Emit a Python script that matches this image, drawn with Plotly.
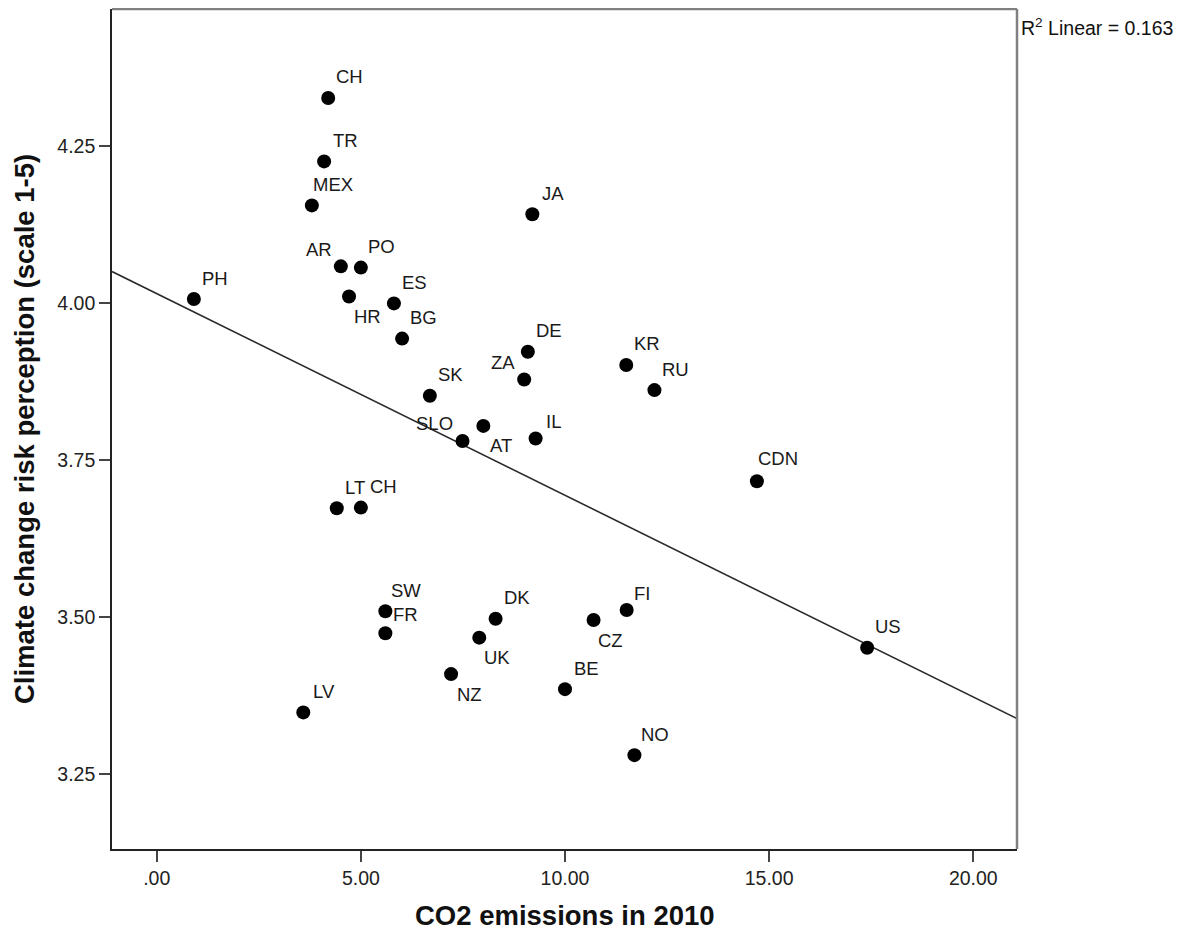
import plotly.graph_objects as go

# ---- data ----
countries = ["CH", "TR", "MEX", "AR", "PO", "PH", "HR", "ES", "BG", "JA",
             "DE", "ZA", "KR", "RU", "SK", "SLO", "AT", "IL", "LT", "CH",
             "CDN", "SW", "FR", "DK", "UK", "NZ", "LV", "CZ", "FI", "BE",
             "NO", "US"]
co2_2010 = [4.20, 4.10, 3.80, 4.51, 5.00, 0.91, 4.71, 5.81, 6.01, 9.20,
            9.09, 9.00, 11.50, 12.19, 6.69, 7.49, 8.00, 9.28, 4.41, 5.00,
            14.70, 5.60, 5.60, 8.30, 7.90, 7.21, 3.59, 10.70, 11.51, 10.00,
            11.70, 17.40]
risk_perception = [4.326, 4.225, 4.155, 4.058, 4.056, 4.006, 4.010, 3.999, 3.943, 4.141,
                   3.922, 3.878, 3.901, 3.861, 3.852, 3.780, 3.804, 3.784, 3.673, 3.674,
                   3.716, 3.509, 3.474, 3.497, 3.467, 3.409, 3.348, 3.495, 3.511, 3.385,
                   3.280, 3.451]

fit_intercept = 4.0146
fit_slope = -0.0321
r2_text = "R<sup>2</sup> Linear = 0.163"

x_tickvals = [0, 5, 10, 15, 20]
x_ticktext = [".00", "5.00", "10.00", "15.00", "20.00"]
y_tickvals = [3.25, 3.50, 3.75, 4.00, 4.25]
y_ticktext = ["3.25", "3.50", "3.75", "4.00", "4.25"]

x_title = "CO2 emissions in 2010"
y_title = "Climate change risk perception (scale 1-5)"

# ---- layout / style ----
X_RANGE = [-1.095, 21.07]
Y_RANGE = [3.1306, 4.4676]
FONT = "Liberation Sans, Arial, sans-serif"

# label offsets (px: right, up) per point, same order as countries
default_off = (21, 21)
label_offsets = [default_off] * len(countries)
special = {3: (-22, 17), 11: (-21, 17), 15: (-28, 18), 6: (18, -20), 16: (18, -20),
           24: (18, -20), 25: (18, -20), 27: (17, -20), 22: (20, 19), 28: (15, 17),
           17: (18, 17), 18: (18, 21), 19: (23, 21), 20: (21, 23)}
for k, v in special.items():
    label_offsets[k] = v

fig = go.Figure()

fit_x = X_RANGE
fit_y = [fit_intercept + fit_slope * v for v in fit_x]
fig.add_trace(go.Scatter(x=fit_x, y=fit_y, mode="lines",
                         line=dict(color="#2a2a2a", width=1.6),
                         hoverinfo="skip", showlegend=False, cliponaxis=True))

fig.add_trace(go.Scatter(x=co2_2010, y=risk_perception, mode="markers",
                         marker=dict(color="black", size=14, line=dict(width=0)),
                         text=countries, showlegend=False, cliponaxis=False))

annotations = []
for c, xv, yv, (dx, dy) in zip(countries, co2_2010, risk_perception, label_offsets):
    annotations.append(dict(x=xv, y=yv, xref="x", yref="y", text=c, showarrow=False,
                            xanchor="center", yanchor="middle", xshift=dx, yshift=dy,
                            font=dict(family=FONT, size=18.5, color="#1a1a1a")))

# axis titles and R2 text
annotations.append(dict(x=0.5, y=-0.0786, xref="paper", yref="paper", text="<b>" + x_title + "</b>",
                        showarrow=False, xanchor="center", yanchor="middle",
                        font=dict(family=FONT, size=27.5, color="#111")))
annotations.append(dict(x=-0.0972, y=0.5, xref="paper", yref="paper", text="<b>" + y_title + "</b>",
                        showarrow=False, textangle=-90, xanchor="center", yanchor="middle",
                        font=dict(family=FONT, size=27.5, color="#111")))
annotations.append(dict(x=1.0022, y=0.9786, xref="paper", yref="paper", text=r2_text,
                        showarrow=False, xanchor="left", yanchor="middle",
                        font=dict(family=FONT, size=19.5, color="#111")))

# the page body adds an 8px offset; the figure is sized to compensate
fig.update_layout(
    width=1182, height=926,
    margin=dict(l=104, r=173, t=1, b=85),
    paper_bgcolor="white", plot_bgcolor="white",
    annotations=annotations,
    shapes=[
        dict(type="line", xref="paper", yref="paper", x0=0, x1=1, y0=1, y1=1,
             line=dict(color="#808080", width=2.5)),
        dict(type="line", xref="paper", yref="paper", x0=1, x1=1, y0=0, y1=1,
             line=dict(color="#808080", width=2.5)),
    ],
    xaxis=dict(range=X_RANGE, tickvals=x_tickvals, ticktext=x_ticktext,
               showgrid=False, zeroline=False, showline=True, linecolor="#222",
               linewidth=1.6, ticks="outside", ticklen=11, tickwidth=1.6, tickcolor="#444",
               tickfont=dict(family=FONT, size=19.5, color="#222")),
    yaxis=dict(range=Y_RANGE, tickvals=y_tickvals, ticktext=y_ticktext,
               showgrid=False, zeroline=False, showline=True, linecolor="#222",
               linewidth=1.6, ticks="outside", ticklen=11, tickwidth=1.6, tickcolor="#444",
               tickfont=dict(family=FONT, size=19.5, color="#222")),
    showlegend=False,
)

fig.write_html("out.html")
